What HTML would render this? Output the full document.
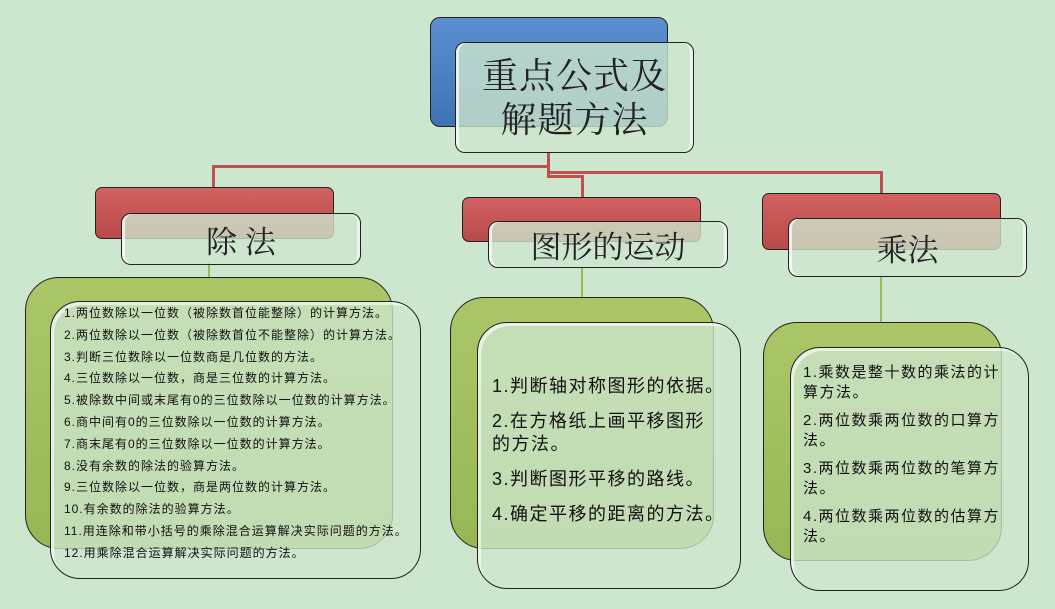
<!DOCTYPE html>
<html><head><meta charset="utf-8"><style>
body{margin:0;width:1055px;height:609px;background:#cde7ce;position:relative;overflow:hidden;font-family:"Liberation Sans","Noto Sans CJK SC",sans-serif;}
.b{position:absolute;box-sizing:border-box;border:1.5px solid #222;}
.blue{background:linear-gradient(#5b8fd0,#3f72b5);border-radius:10px;}
.red{background:linear-gradient(#d26262,#b94a4a);border-radius:7px;}
.grn{background:linear-gradient(#aac768,#97b756);border-radius:34px;}
.gl{background:rgba(205,230,205,0.8);border-radius:10px;box-shadow:inset 3px 0 0 rgba(255,255,255,0.7),inset -3px 0 0 rgba(255,255,255,0.6);}
.gp{background:rgba(205,230,205,0.78);border-radius:30px;box-shadow:inset 3px 3px 0 rgba(255,255,255,0.6);}
.t{font-family:"Liberation Serif","Noto Serif CJK SC",serif;color:#222;text-align:center;display:flex;align-items:center;justify-content:center;}
.l{position:absolute;background:#c0504d;}
.g{position:absolute;background:#9bbb59;width:2px;}
.tx{position:absolute;color:#111;white-space:nowrap;}
</style></head><body>
<div class="l" style="left:212px;top:165px;width:337px;height:3px"></div>
<div class="l" style="left:212px;top:165px;width:3px;height:23px"></div>
<div class="l" style="left:547px;top:152px;width:3px;height:24px"></div>
<div class="l" style="left:547px;top:171px;width:335px;height:3px"></div>
<div class="l" style="left:880px;top:171px;width:3px;height:23px"></div>
<div class="l" style="left:547px;top:175px;width:36px;height:3px"></div>
<div class="l" style="left:581px;top:175px;width:3px;height:23px"></div>
<div class="g" style="left:208px;top:262px;height:16px"></div>
<div class="g" style="left:581px;top:266px;height:32px"></div>
<div class="g" style="left:880px;top:275px;height:48px"></div>

<div class="b blue" style="left:430px;top:17px;width:238px;height:110px"></div>
<div class="b gl t" style="left:455px;top:42px;width:239px;height:111px;font-size:36px;line-height:44px;letter-spacing:1px">重点公式及<br>解题方法</div>

<div class="b red" style="left:95px;top:187px;width:239px;height:52px"></div>
<div class="b gl t" style="left:121px;top:213px;width:240px;height:52px;font-size:31px">除&nbsp;法</div>
<div class="b red" style="left:462px;top:197px;width:239px;height:45px"></div>
<div class="b gl t" style="left:488px;top:221px;width:240px;height:47px;font-size:31px">图形的运动</div>
<div class="b red" style="left:762px;top:193px;width:239px;height:57px"></div>
<div class="b gl t" style="left:788px;top:218px;width:239px;height:59px;font-size:31px">乘法</div>

<div class="b grn" style="left:25px;top:277px;width:368px;height:272px"></div>
<div class="b gp" style="left:50px;top:301px;width:371px;height:278px"></div>
<div class="b grn" style="left:450px;top:297px;width:264px;height:252px"></div>
<div class="b gp" style="left:477px;top:322px;width:264px;height:267px"></div>
<div class="b grn" style="left:763px;top:322px;width:239px;height:239px"></div>
<div class="b gp" style="left:790px;top:347px;width:239px;height:244px"></div>

<div class="tx" style="left:64px;top:303px;font-size:12px;letter-spacing:1px;line-height:21.8px">
1.两位数除以一位数（被除数首位能整除）的计算方法。<br>
2.两位数除以一位数（被除数首位不能整除）的计算方法。<br>
3.判断三位数除以一位数商是几位数的方法。<br>
4.三位数除以一位数，商是三位数的计算方法。<br>
5.被除数中间或末尾有0的三位数除以一位数的计算方法。<br>
6.商中间有0的三位数除以一位数的计算方法。<br>
7.商末尾有0的三位数除以一位数的计算方法。<br>
8.没有余数的除法的验算方法。<br>
9.三位数除以一位数，商是两位数的计算方法。<br>
10.有余数的除法的验算方法。<br>
11.用连除和带小括号的乘除混合运算解决实际问题的方法。<br>
12.用乘除混合运算解决实际问题的方法。</div>

<div class="tx" style="left:492px;top:375px;font-size:18px;letter-spacing:1.5px;line-height:23px">
<div style="margin-bottom:12px">1.判断轴对称图形的依据。</div>
<div style="margin-bottom:12px">2.在方格纸上画平移图形<br>的方法。</div>
<div style="margin-bottom:12px">3.判断图形平移的路线。</div>
<div>4.确定平移的距离的方法。</div></div>

<div class="tx" style="left:803px;top:363px;font-size:15px;letter-spacing:1.5px;line-height:19.5px">
<div style="margin-bottom:9px">1.乘数是整十数的乘法的计<br>算方法。</div>
<div style="margin-bottom:9px">2.两位数乘两位数的口算方<br>法。</div>
<div style="margin-bottom:9px">3.两位数乘两位数的笔算方<br>法。</div>
<div>4.两位数乘两位数的估算方<br>法。</div></div>
</body></html>
